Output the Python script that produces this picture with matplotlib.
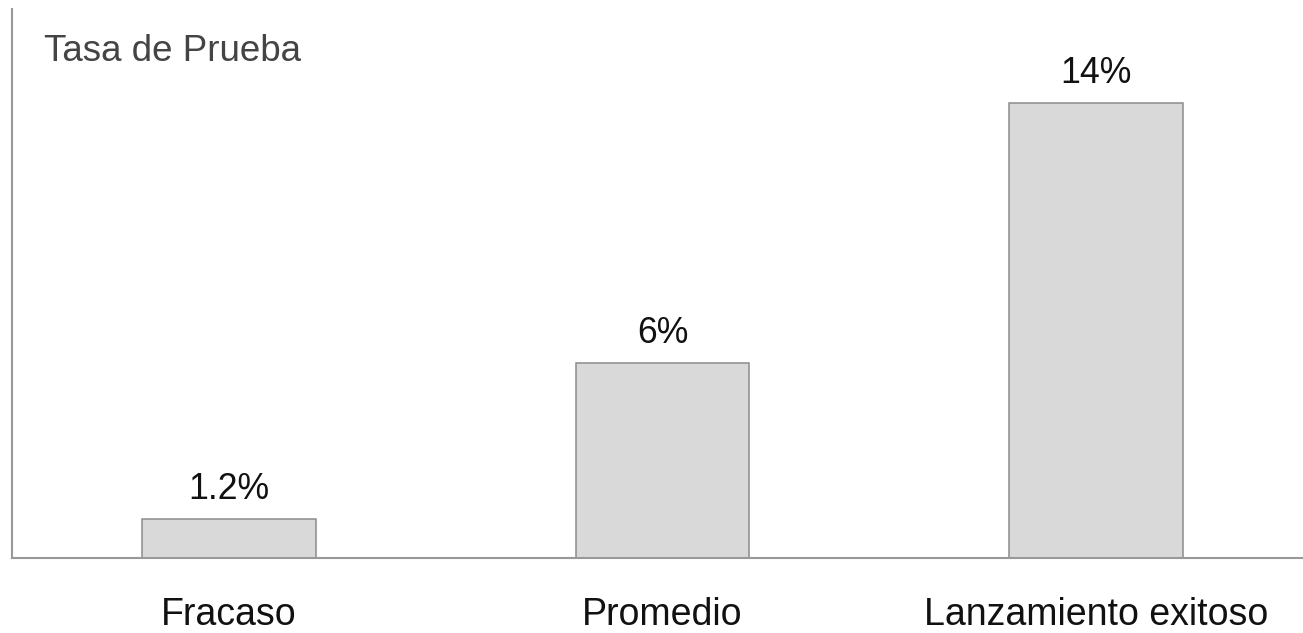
import matplotlib
matplotlib.use("Agg")
import matplotlib.pyplot as plt

categories = ["Fracaso", "Promedio", "Lanzamiento exitoso"]
trial_rates = [1.2, 6, 14]
value_labels = ["1.2%", "6%", "14%"]
axis_title = "Tasa de Prueba"

plt.rcParams["font.family"] = ["Liberation Sans", "DejaVu Sans"]

fig = plt.figure(figsize=(13.03, 6.33), dpi=100)
ax = fig.add_axes([12 / 1303, 75 / 633, (1303 - 12) / 1303, (558 - 9) / 633])

x = list(range(len(categories)))
ax.bar(x, trial_rates, width=0.4, color="#d9d9d9",
       edgecolor="#8c8c8c", linewidth=1.1, zorder=2)

for xi, v, lab in zip(x, trial_rates, value_labels):
    ax.annotate(lab, (xi, v), xytext=(0, 9), textcoords="offset points",
                ha="center", va="bottom", fontsize=25.7, color="#111111")

ax.set_xlim(-0.5, 2.477)
ax.set_ylim(0, 16.9)
ax.set_xticks(x)
ax.set_xticklabels(categories, fontsize=27, color="#111111")
ax.tick_params(axis="x", length=0, pad=28)
ax.set_yticks([])

for side in ("top", "right"):
    ax.spines[side].set_visible(False)
for side in ("left", "bottom"):
    ax.spines[side].set_color("#999999")
    ax.spines[side].set_linewidth(1.5)

ax.text(0.025, 0.9545, axis_title, transform=ax.transAxes,
        ha="left", va="top", fontsize=26.5, color="#444444")

fig.savefig("out.png", dpi=100, facecolor="white")
